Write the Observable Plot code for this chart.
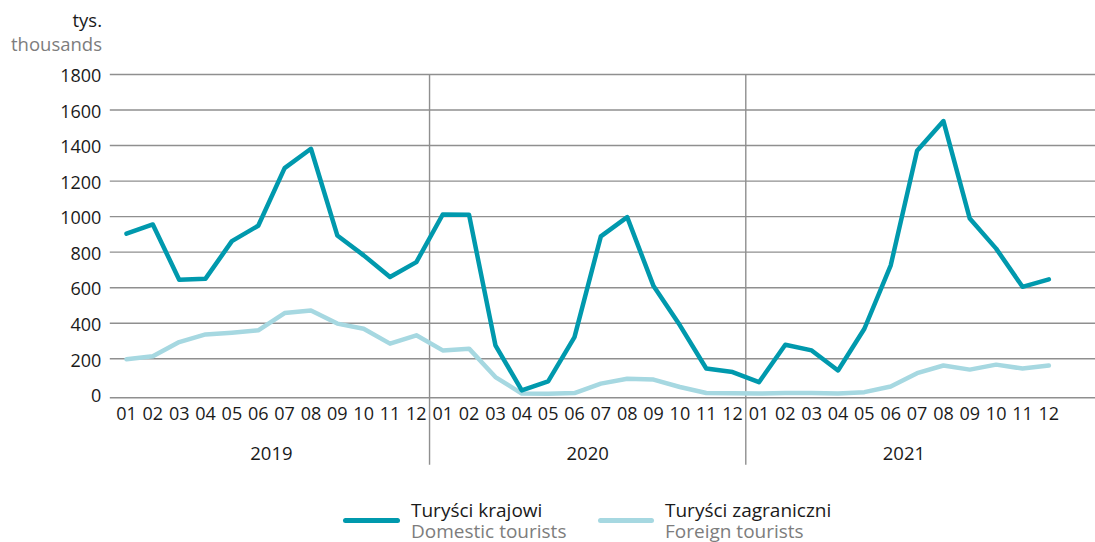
<!DOCTYPE html>
<html>
<head>
<meta charset="utf-8">
<script src="https://cdn.jsdelivr.net/npm/d3@7"></script>
<script src="https://cdn.jsdelivr.net/npm/@observablehq/plot@0.6"></script>
<style>
  html, body { margin: 0; padding: 0; background: #fff; }
  #wrap { position: relative; width: 1095px; height: 542px; font-family: "Open Sans", sans-serif; overflow: hidden; }
  #chart { position: absolute; left: 0; top: 0; }
  .unit { position: absolute; right: calc(1095px - 102px); text-align: right; font-size: 18.5px; line-height: 24px; white-space: nowrap; }
  .pl { color: #1a1a1a; }
  .en { color: #7d7d7d; }
  .leg { position: absolute; font-size: 19px; line-height: 21px; white-space: nowrap; }
  .swatch { position: absolute; height: 5px; border-radius: 3px; }
</style>
</head>
<body>
<div id="wrap">
  <div id="chart"></div>
  <div class="unit pl" style="top:8px">tys.</div>
  <div class="unit en" style="top:32px">thousands</div>
  <div id="legend"></div>
</div>
<script>
const years = ["2019", "2020", "2021"];
const months = ["01","02","03","04","05","06","07","08","09","10","11","12"];
const yTicks = [0, 200, 400, 600, 800, 1000, 1200, 1400, 1600, 1800];

const domestic = [
  904, 956, 645, 651, 862, 949, 1273, 1382, 894, 782, 660, 744,
  1012, 1010, 276, 22, 73, 322, 889, 997, 609, 388, 145, 125,
  68, 279, 247, 134, 369, 726, 1371, 1538, 989, 820, 605, 647
];
const foreign = [
  197, 214, 294, 337, 347, 360, 457, 472, 398, 369, 285, 332,
  247, 257, 97, 4, 3, 7, 60, 88, 83, 41, 7, 6,
  4, 8, 8, 4, 12, 44, 119, 162, 139, 167, 145, 162
];
const seriesNames = [
  {pl: "Turyści krajowi", en: "Domestic tourists"},
  {pl: "Turyści zagraniczni", en: "Foreign tourists"}
];
const colors = ["#0099ad", "#a6d8e1"];

const n = domestic.length;
const rows = [];
for (let i = 0; i < n; i++) {
  rows.push({i, month: months[i % 12], year: years[Math.floor(i / 12)], series: "domestic", value: domestic[i]});
}
const rowsF = [];
for (let i = 0; i < n; i++) {
  rowsF.push({i, month: months[i % 12], year: years[Math.floor(i / 12)], series: "foreign", value: foreign[i]});
}
const yearRows = years.map((y, k) => ({year: y, center: k * 12 + 5.5}));
const separators = years.slice(1).map((y, k) => (k + 1) * 12 - 0.5);

const chart = Plot.plot({
  width: 1095,
  height: 480,
  marginLeft: 112.8,
  marginRight: 0,
  marginTop: 74,
  marginBottom: 86.2,
  style: {fontFamily: "'Open Sans', sans-serif", background: "#fff"},
  x: {type: "linear", domain: [-0.5, 36.77], axis: null},
  y: {domain: [0, 1800], axis: null},
  marks: [
    Plot.ruleY(yTicks.filter(d => d > 0), {stroke: "#8f8f8f", strokeWidth: 1.4, insetLeft: -3}),
    Plot.ruleY([0], {stroke: "#8f8f8f", strokeWidth: 1.4, dy: 3.5, insetLeft: -3}),
    Plot.ruleX(separators, {y1: 1800, y2: 0, stroke: "#8f8f8f", strokeWidth: 1.4, insetBottom: -71}),
    Plot.text(yTicks, {y: d => d, text: d => String(d), frameAnchor: "left", textAnchor: "end", dx: -12, dy: 2, fontSize: 18, fill: "#1a1a1a"}),
    Plot.text(rows, {x: "i", text: "month", frameAnchor: "bottom", dy: 25.5, fontSize: 18, fill: "#1a1a1a"}),
    Plot.text(yearRows, {x: "center", text: "year", frameAnchor: "bottom", dy: 66, fontSize: 18.5, fill: "#1a1a1a"}),
    Plot.lineY(rowsF, {x: "i", y: "value", stroke: colors[1], strokeWidth: 4.5}),
    Plot.lineY(rows, {x: "i", y: "value", stroke: colors[0], strokeWidth: 4.5})
  ]
});
document.getElementById("chart").appendChild(chart);

const legend = document.getElementById("legend");
const legPos = [{sx: 343, sw: 57, tx: 411}, {sx: 598, sw: 56, tx: 665}];
seriesNames.forEach((s, k) => {
  const sw = document.createElement("div");
  sw.className = "swatch";
  sw.style.left = legPos[k].sx + "px";
  sw.style.width = legPos[k].sw + "px";
  sw.style.top = "517.5px";
  sw.style.background = colors[k];
  legend.appendChild(sw);
  const t1 = document.createElement("div");
  t1.className = "leg pl";
  t1.style.left = legPos[k].tx + "px";
  t1.style.top = "499.5px";
  t1.textContent = s.pl;
  legend.appendChild(t1);
  const t2 = document.createElement("div");
  t2.className = "leg en";
  t2.style.left = legPos[k].tx + "px";
  t2.style.top = "521px";
  t2.textContent = s.en;
  legend.appendChild(t2);
});
</script>
</body>
</html>
